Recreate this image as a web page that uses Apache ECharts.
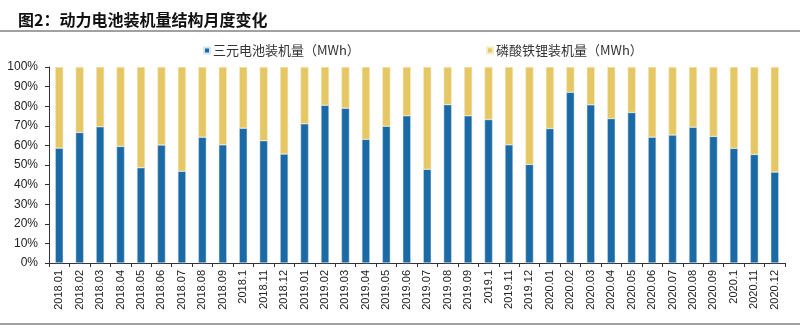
<!DOCTYPE html>
<html>
<head>
<meta charset="utf-8">
<script src="https://cdn.jsdelivr.net/npm/echarts@6/dist/echarts.min.js"></script>
<style>
  html, body { margin: 0; padding: 0; background: #fff; }
  #chart { width: 800px; height: 328px; }
</style>
</head>
<body>
<div id="chart"></div>
<script>
// Monthly categories, 2018.01 – 2020.12 (October written as ".1")
const months = [
  '2018.01','2018.02','2018.03','2018.04','2018.05','2018.06','2018.07','2018.08','2018.09','2018.1','2018.11','2018.12',
  '2019.01','2019.02','2019.03','2019.04','2019.05','2019.06','2019.07','2019.08','2019.09','2019.1','2019.11','2019.12',
  '2020.01','2020.02','2020.03','2020.04','2020.05','2020.06','2020.07','2020.08','2020.09','2020.1','2020.11','2020.12'
];

// Share of ternary batteries in monthly installed capacity (%)
const ternaryShare = [
  58.6, 66.6, 69.5, 59.5, 48.6, 60.2, 46.8, 64.2, 60.3, 68.8, 62.4, 55.6,
  71.0, 80.5, 79.0, 63.1, 69.8, 75.1, 47.8, 80.8, 75.1, 73.2, 60.3, 50.3,
  68.6, 87.1, 80.7, 73.7, 76.8, 64.2, 65.3, 69.3, 64.6, 58.5, 55.4, 46.4
];

// Share of LFP batteries: the remainder of each month's total
const lfpShare = ternaryShare.map(v => +(100 - v).toFixed(1));

const seriesNames = ['三元电池装机量（MWh）', '磷酸铁锂装机量（MWh）'];
const yTicks = [0, 10, 20, 30, 40, 50, 60, 70, 80, 90, 100];

const chart = echarts.init(document.getElementById('chart'), null, { renderer: 'canvas' });

const font = 'Liberation Sans, Arial, sans-serif';
const cjkFont = '"Noto Sans CJK SC", sans-serif';

chart.setOption({
  animation: false,
  backgroundColor: '#ffffff',
  color: ['#1C6AA5', '#E5C865'],
  title: {
    text: '图2：动力电池装机量结构月度变化',
    left: 13,
    top: 7,
    textStyle: { fontFamily: cjkFont, fontSize: 16, fontWeight: 'bold', color: '#111' }
  },
  graphic: [
    { type: 'line', shape: { x1: 0, y1: 31, x2: 800, y2: 31 }, style: { stroke: '#444', lineWidth: 1.2 } },
    { type: 'line', shape: { x1: 0, y1: 324, x2: 800, y2: 324 }, style: { stroke: '#444', lineWidth: 1.2 } }
  ],
  legend: [
    {
      data: [seriesNames[0]], left: 198, top: 39,
      itemWidth: 6, itemHeight: 6, icon: 'rect', itemGap: 3,
      textStyle: { fontFamily: cjkFont, fontSize: 13, color: '#333', padding: [0, 0, 0, -2] }
    },
    {
      data: [seriesNames[1]], left: 481, top: 39,
      itemWidth: 6, itemHeight: 6, icon: 'rect', itemGap: 3,
      textStyle: { fontFamily: cjkFont, fontSize: 13, color: '#333', padding: [0, 0, 0, -2] }
    }
  ],
  grid: { left: 49, right: 15, top: 67, bottom: 65, containLabel: false },
  xAxis: {
    type: 'category',
    data: months,
    boundaryGap: true,
    axisLine: { lineStyle: { color: '#333', width: 1 } },
    axisTick: { show: true, alignWithLabel: false, length: 4, lineStyle: { color: '#333' } },
    axisLabel: {
      rotate: 90, interval: 0, margin: 7,
      fontFamily: font, fontSize: 11, color: '#222'
    }
  },
  yAxis: {
    type: 'value',
    min: yTicks[0], max: yTicks[yTicks.length - 1], interval: 10,
    axisLine: { show: true, lineStyle: { color: '#333', width: 1 } },
    axisTick: { show: true, length: 4, lineStyle: { color: '#333' } },
    splitLine: { show: false },
    axisLabel: {
      formatter: v => v + '%', margin: 11,
      fontFamily: font, fontSize: 12, color: '#222'
    }
  },
  series: [
    {
      name: seriesNames[0], type: 'bar', stack: 'share', data: ternaryShare,
      barWidth: 8,
      itemStyle: { color: '#1C6AA5', borderColor: '#d6e4f0', borderWidth: 0.5 }
    },
    {
      name: seriesNames[1], type: 'bar', stack: 'share', data: lfpShare,
      barWidth: 8,
      itemStyle: { color: '#E5C865', borderColor: '#f5ecc8', borderWidth: 0.5 }
    }
  ]
});
</script>
</body>
</html>
